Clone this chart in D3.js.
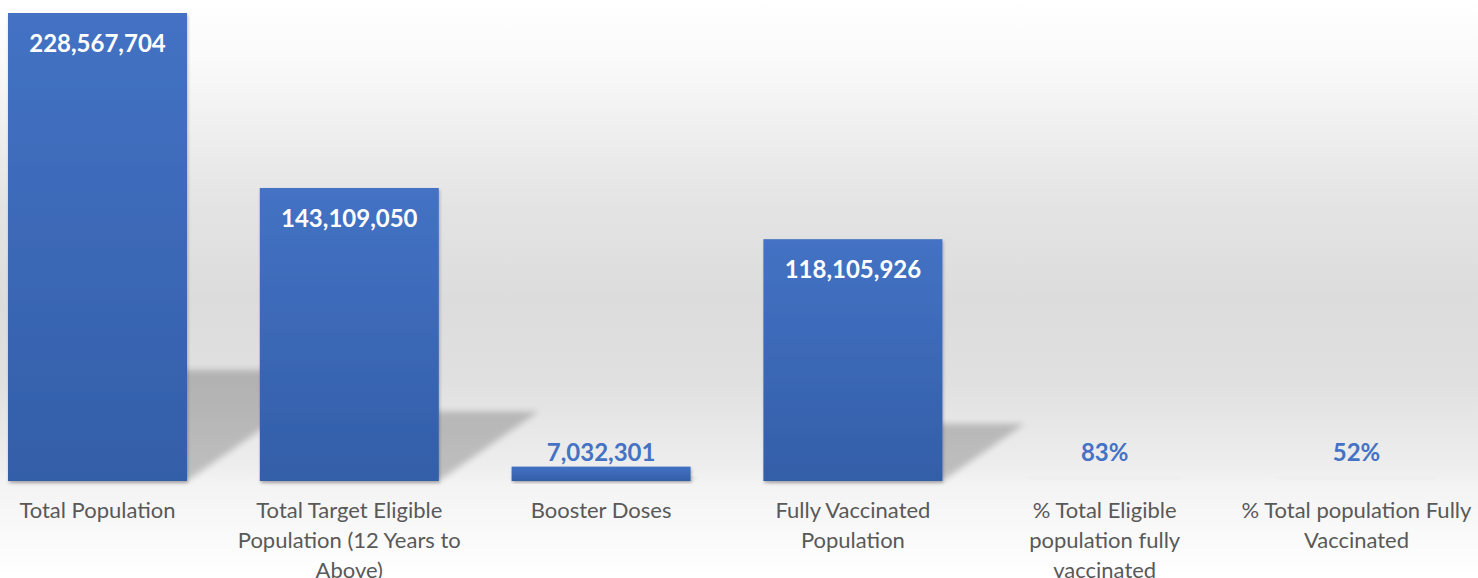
<!DOCTYPE html>
<html>
<head>
<meta charset="utf-8">
<script src="https://cdn.jsdelivr.net/npm/d3@7.9.0/dist/d3.min.js"></script>
<style>
  body { margin: 0; background: #fff; }
  svg { display: block; font-family: Lato, "Open Sans", sans-serif; }
</style>
</head>
<body>
<svg id="chart" width="1478" height="578"></svg>
<script>
// data
const categories = [
  'Total Population',
  'Total Target Eligible Population (12 Years to Above)',
  'Booster Doses',
  'Fully Vaccinated Population',
  '% Total Eligible population fully vaccinated',
  '% Total population Fully Vaccinated'
];
const values = [228567704, 143109050, 7032301, 118105926, 0.83, 0.52];
const valueKinds = ['count', 'count', 'count', 'count', 'pct', 'pct'];
const tickLines = [
  ['Total Population'],
  ['Total Target Eligible', 'Population (12 Years to', 'Above)'],
  ['Booster Doses'],
  ['Fully Vaccinated', 'Population'],
  ['% Total Eligible', 'population fully', 'vaccinated'],
  ['% Total population Fully', 'Vaccinated']
];

const width = 1478, height = 578;
const baseY = 481;

const svg = d3.select('#chart');
const defs = svg.append('defs');

// background gradient
const bg = defs.append('linearGradient')
  .attr('id', 'bg').attr('x1', 0).attr('y1', 0).attr('x2', 0).attr('y2', 1);
[[0, '#ffffff'], [0.1, '#fafafa'], [0.21, '#f0f0f0'], [0.35, '#e4e4e4'],
 [0.52, '#dcdcdc'], [0.66, '#e0e0e0'], [0.81, '#eeeeee'], [0.835, '#f3f3f3'], [1, '#ffffff']]
  .forEach(([o, c]) => bg.append('stop').attr('offset', o).attr('stop-color', c));

// bar gradient
const barGrad = defs.append('linearGradient')
  .attr('id', 'barGrad').attr('x1', 0).attr('y1', 0).attr('x2', 0).attr('y2', 1);
barGrad.append('stop').attr('offset', 0).attr('stop-color', '#4472c4');
barGrad.append('stop').attr('offset', 1).attr('stop-color', '#335ea8');

defs.append('filter').attr('id', 'blur')
  .attr('x', '-20%').attr('y', '-20%').attr('width', '140%').attr('height', '140%')
  .append('feGaussianBlur').attr('stdDeviation', 3);

defs.append('filter').attr('id', 'drop')
  .attr('x', '-10%').attr('y', '-10%').attr('width', '120%').attr('height', '130%')
  .append('feDropShadow')
  .attr('dx', 1).attr('dy', 2).attr('stdDeviation', 1.5)
  .attr('flood-color', '#000').attr('flood-opacity', 0.25);

svg.append('rect').attr('width', width).attr('height', height).attr('fill', 'url(#bg)');

const x = d3.scaleBand()
  .domain(categories)
  .range([-28.4, 1482.4])
  .paddingInner(0.289)
  .paddingOuter(0.1445);

const y = d3.scaleLinear()
  .domain([0, d3.max(values)])
  .range([baseY, 13]);

const fmtCount = d3.format(',');
const fmtPct = d3.format('.0%');

const data = categories.map((c, i) => ({
  cat: c, value: values[i], kind: valueKinds[i], lines: tickLines[i]
}));

// perspective shadows behind the bars
svg.append('g').selectAll('polygon')
  .data(data)
  .join('polygon')
  .attr('points', d => {
    const x0 = x(d.cat), x1 = x0 + x.bandwidth();
    const h = baseY - y(d.value);
    const s = 0.34 * h, k = 0.237 * h;
    return [[x0, baseY], [x1, baseY], [x1 + s, baseY - k], [x0 + s, baseY - k]].join(' ');
  })
  .attr('fill', '#000')
  .attr('opacity', 0.2)
  .attr('filter', 'url(#blur)');

// faint shadow for zero-height bars
svg.append('g').selectAll('rect')
  .data(data.filter(d => baseY - y(d.value) < 1))
  .join('rect')
  .attr('x', d => x(d.cat) + 10)
  .attr('y', baseY - 4)
  .attr('width', x.bandwidth() - 20)
  .attr('height', 2)
  .attr('fill', '#000')
  .attr('opacity', 0.05)
  .attr('filter', 'url(#blur)');

// bars
svg.append('g').selectAll('rect')
  .data(data)
  .join('rect')
  .attr('x', d => x(d.cat))
  .attr('y', d => y(d.value))
  .attr('width', x.bandwidth())
  .attr('height', d => baseY - y(d.value))
  .attr('fill', 'url(#barGrad)')
  .attr('filter', 'url(#drop)');

// value labels
svg.append('g').selectAll('text')
  .data(data)
  .join('text')
  .attr('x', d => x(d.cat) + x.bandwidth() / 2)
  .attr('y', d => {
    const top = y(d.value);
    if (baseY - top > 40) return top + 39;
    return Math.min(top - 6, baseY - 20);
  })
  .attr('text-anchor', 'middle')
  .attr('font-size', 24)
  .attr('font-weight', 'bold')
  .attr('fill', d => (baseY - y(d.value) > 40 ? '#ffffff' : '#4472c4'))
  .text(d => d.kind === 'pct' ? fmtPct(d.value) : fmtCount(d.value));

// category labels
const ticks = svg.append('g').selectAll('text')
  .data(data)
  .join('text')
  .attr('x', d => x(d.cat) + x.bandwidth() / 2)
  .attr('y', 518)
  .attr('text-anchor', 'middle')
  .attr('font-size', 22)
  .attr('fill', '#595959');

ticks.selectAll('tspan')
  .data(d => d.lines.map(l => ({ l, cx: x(d.cat) + x.bandwidth() / 2 })))
  .join('tspan')
  .attr('x', t => t.cx)
  .attr('dy', (t, i) => i === 0 ? 0 : 30)
  .text(t => t.l);
</script>
</body>
</html>
